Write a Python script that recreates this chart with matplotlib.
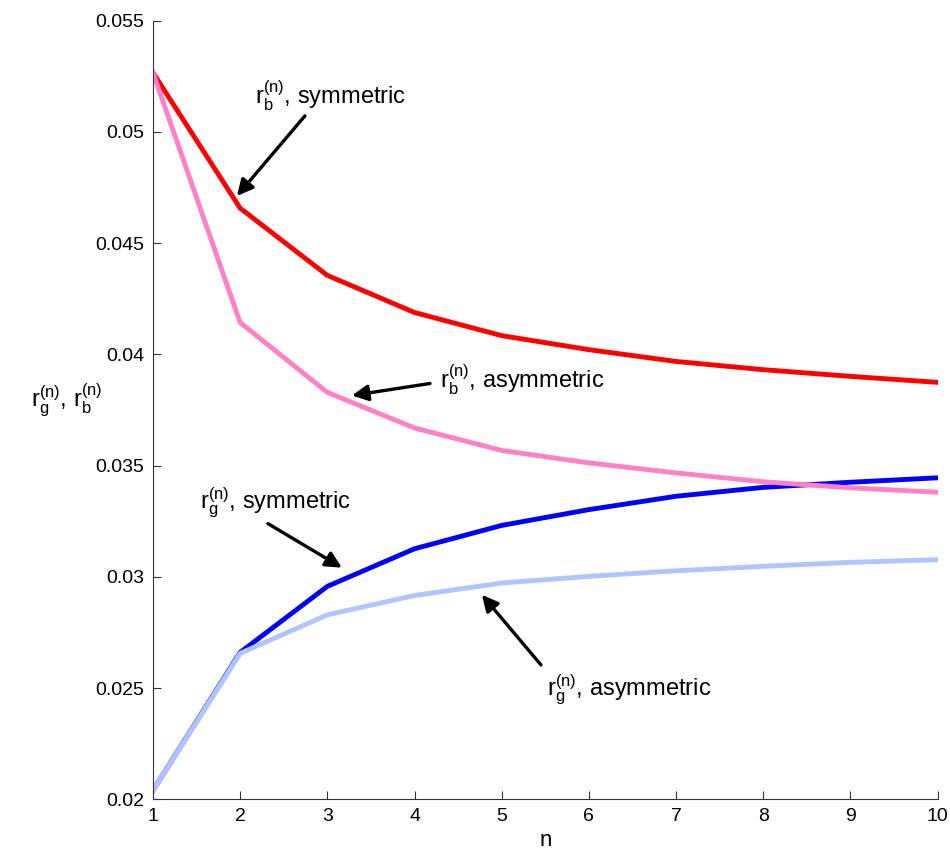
import numpy as np
import matplotlib
matplotlib.use("Agg")
import matplotlib.pyplot as plt

plt.rcParams['font.family'] = ['Liberation Sans', 'DejaVu Sans']
plt.rcParams['mathtext.fontset'] = 'custom'
plt.rcParams['mathtext.rm'] = 'Liberation Sans'
plt.rcParams['mathtext.it'] = 'Liberation Sans'

# Daten
n = [1, 2, 3, 4, 5, 6, 7, 8, 9, 10]
rb_sym = [0.05266, 0.04657, 0.04355, 0.04188, 0.04084, 0.04021, 0.03968, 0.03931, 0.03901, 0.03874]
rb_asym = [0.05266, 0.04143, 0.03829, 0.03669, 0.03568, 0.03512, 0.03467, 0.03427, 0.03400, 0.03380]
rg_sym = [0.02040, 0.02660, 0.02957, 0.03126, 0.03231, 0.03302, 0.03362, 0.03402, 0.03425, 0.03445]
rg_asym = [0.02040, 0.02656, 0.02829, 0.02916, 0.02972, 0.03002, 0.03027, 0.03047, 0.03065, 0.03077]

fig = plt.figure(figsize=(9.5, 8.5), dpi=100)
ax = fig.add_axes([0.161, 0.0597, 0.826, 0.916])

lw = 3.5
ax.plot(n, rb_sym, color='#ff0000', lw=lw)
ax.plot(n, rg_sym, color='#0000ff', lw=lw)
ax.plot(n, rb_asym, color='#ff80c4', lw=lw)
ax.plot(n, rg_asym, color='#b0c4ff', lw=lw)

ax.set_xlim(1, 10)
ax.set_ylim(0.02, 0.055)
ax.set_xticks(range(1, 11))
ax.set_yticks([0.02, 0.025, 0.03, 0.035, 0.04, 0.045, 0.05, 0.055])
ax.set_yticklabels(['0.02', '0.025', '0.03', '0.035', '0.04', '0.045', '0.05', '0.055'])

for s in ['top', 'right']:
    ax.spines[s].set_visible(False)
for s in ['left', 'bottom']:
    ax.spines[s].set_color('#333333')
ax.tick_params(direction='in', length=6, labelsize=14, color='#333333', pad=6)

ax.set_xlabel('n', fontsize=16, labelpad=4)
ax.set_ylabel(r'$\mathrm{r}_{\mathrm{g}}^{(\mathrm{n})}$, $\mathrm{r}_{\mathrm{b}}^{(\mathrm{n})}$',
              fontsize=17, rotation=0, labelpad=0)
ax.yaxis.set_label_coords(-0.11, 0.49)

# Beschriftungen mit Pfeilen
arrow = dict(arrowstyle='-|>', color='black', lw=2.4, mutation_scale=24, shrinkA=0, shrinkB=0)
notes = [
    (r'$\mathrm{r}_{\mathrm{b}}^{(\mathrm{n})}$, symmetric', (2.17, 0.05161), (2.743, 0.05072), (1.963, 0.04712)),
    (r'$\mathrm{r}_{\mathrm{b}}^{(\mathrm{n})}$, asymmetric', (4.29, 0.03887), (4.177, 0.03869), (3.282, 0.03815)),
    (r'$\mathrm{r}_{\mathrm{g}}^{(\mathrm{n})}$, symmetric', (1.54, 0.03333), (2.319, 0.03239), (3.167, 0.03041)),
    (r'$\mathrm{r}_{\mathrm{g}}^{(\mathrm{n})}$, asymmetric', (5.52, 0.02492), (5.45, 0.02604), (4.773, 0.02919)),
]
for txt, pos, tail, head in notes:
    ax.text(pos[0], pos[1], txt, fontsize=17, ha='left', va='center')
    ax.annotate('', xy=head, xytext=tail, arrowprops=arrow)

fig.savefig('out.png', dpi=100)
